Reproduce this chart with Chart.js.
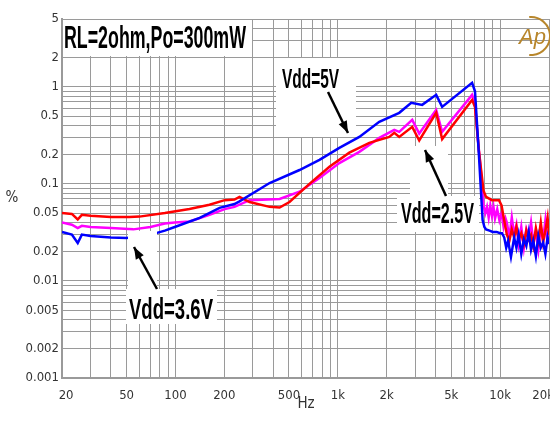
<!DOCTYPE html>
<html>
<head>
<meta charset="utf-8">
<script src="https://cdn.jsdelivr.net/npm/chart.js@4"></script>
<style>
  html, body { margin: 0; padding: 0; background: #fff; }
</style>
</head>
<body>
<canvas id="thdChart" width="550" height="437"></canvas>
<script>
// THD+N (%) vs frequency (Hz)
const freq5V = [20, 23, 25, 26.5, 30, 40, 50, 60, 70, 77, 86, 99, 141, 187, 231, 248, 380, 581, 771, 1022,
  1357, 1801, 2390, 2834, 3310, 4036, 4394, 6718, 7000, 7400, 7630, 7800, 8000, 8190, 8600, 9000, 9500, 10000,
  10270, 10600, 10900, 11200, 11660, 12200, 12600, 13000, 13500, 14000, 14500, 15000, 15500, 16000, 16600,
  17200, 17800, 18400, 19000, 19600, 20000];
const thd5V = [0.032, 0.030, 0.0246, 0.030, 0.029, 0.028, 0.0277, 0.029, 0.030, 0.0313, 0.033, 0.036, 0.0446,
  0.0566, 0.062, 0.066, 0.102, 0.139, 0.177, 0.235, 0.305, 0.436, 0.540, 0.684, 0.652, 0.827, 0.622, 1.10, 0.90,
  0.20, 0.080, 0.0425, 0.036, 0.034, 0.033, 0.032, 0.032, 0.031, 0.031, 0.028, 0.022, 0.026, 0.0177,
  0.028, 0.022, 0.030, 0.019, 0.027, 0.023, 0.032, 0.021, 0.026, 0.018, 0.029, 0.022, 0.025, 0.019, 0.028, 0.024];

const freq36V = [20, 23, 25, 26.5, 30, 40, 55, 70, 86, 99, 122, 162, 201, 231, 286, 438, 581, 771, 1022, 1357,
  1801, 2228, 2390, 2874, 3174, 4036, 4394, 6718, 7000, 7400, 7630, 7900, 8100, 8300, 8500, 8700, 8900, 9100,
  9300, 9600, 9900, 10200, 10500, 10800, 11000, 11400, 11800, 12200, 12600, 13000, 13500, 14000, 14500, 15000,
  15500, 16000, 16600, 17200, 17800, 18400, 19000, 19600, 20000];
const thd36V = [0.040, 0.038, 0.035, 0.037, 0.036, 0.0352, 0.034, 0.036, 0.039, 0.040, 0.041, 0.048, 0.055,
  0.058, 0.068, 0.070, 0.083, 0.115, 0.164, 0.214, 0.298, 0.360, 0.344, 0.457, 0.330, 0.579, 0.344, 0.827, 0.680,
  0.220, 0.130, 0.060, 0.050, 0.058, 0.045, 0.060, 0.047, 0.058, 0.044, 0.055, 0.042, 0.050, 0.036, 0.044,
  0.040, 0.028, 0.045, 0.030, 0.038, 0.024, 0.036, 0.022, 0.034, 0.028, 0.040, 0.025, 0.032, 0.021, 0.036,
  0.027, 0.042, 0.024, 0.034];

const freq25V = [20, 23, 25, 26.5, 30, 40, 52, 60, 86, 122, 162, 201, 231, 248, 286, 380, 438, 504, 669, 888,
  1178, 1564, 2075, 2228, 2390, 2874, 3174, 4036, 4394, 6718, 7000, 7400, 7630, 7900, 8190, 8900, 9840, 10200,
  10600, 11000, 11400, 11800, 12200, 12600, 13000, 13500, 14000, 14500, 15000, 15500, 16000, 16600, 17200,
  17800, 18400, 19000, 19600, 20000];
const thd25V = [0.050, 0.049, 0.043, 0.048, 0.047, 0.0457, 0.0457, 0.046, 0.050, 0.055, 0.061, 0.068, 0.069,
  0.0735, 0.065, 0.058, 0.057, 0.065, 0.100, 0.150, 0.210, 0.265, 0.305, 0.336, 0.305, 0.387, 0.280, 0.540,
  0.290, 0.734, 0.620, 0.220, 0.140, 0.085, 0.0735, 0.068, 0.068, 0.060, 0.042,
  0.030, 0.026, 0.034, 0.028, 0.036, 0.027, 0.031, 0.024, 0.033, 0.027, 0.030, 0.023, 0.035, 0.026, 0.040,
  0.025, 0.033, 0.045, 0.030];

const xTickLabels = [20, 50, 100, 200, 500, 1000, 2000, 5000, 10000, 20000];
const yTickLabels = [0.001, 0.002, 0.005, 0.01, 0.02, 0.05, 0.1, 0.2, 0.5, 1, 2, 5];

// grid lines at every 1..9 step of each decade
const xGrid = [];
for (let e = 1; e <= 4; e++) {
  for (let m = 1; m <= 9; m++) {
    const v = m * Math.pow(10, e);
    if (v >= 20 && v <= 20000) xGrid.push(v);
  }
}
const yGrid = [];
for (let e = -3; e <= 0; e++) {
  for (let m = 1; m <= 9; m++) {
    const v = Number((m * Math.pow(10, e)).toPrecision(2));
    if (v <= 5) yGrid.push(v);
  }
}

function toPoints(xs, ys) {
  return xs.map((x, i) => ({ x: x, y: ys[i] }));
}

const narrowFont = "'Liberation Sans Narrow', 'DejaVu Sans Condensed', 'Liberation Sans', sans-serif";

// bold label squeezed to a given width
function squeezed(c, str, x, base, width, size) {
  c.font = 'bold ' + size + 'px "Liberation Sans", Arial, sans-serif';
  const w = c.measureText(str).width;
  c.save();
  c.translate(x, base);
  c.scale(width / w, 1);
  c.fillText(str, 0, 0);
  c.restore();
}

function arrow(c, x0, y0, x1, y1) {
  c.beginPath();
  c.moveTo(x0, y0);
  c.lineTo(x1, y1);
  c.stroke();
  const a = Math.atan2(y1 - y0, x1 - x0);
  const L = 12, W = 4.5;
  c.beginPath();
  c.moveTo(x1, y1);
  c.lineTo(x1 - L * Math.cos(a) + W * Math.sin(a), y1 - L * Math.sin(a) - W * Math.cos(a));
  c.lineTo(x1 - L * Math.cos(a) - W * Math.sin(a), y1 - L * Math.sin(a) + W * Math.cos(a));
  c.closePath();
  c.fill();
}

const annotate = {
  id: 'annotate',
  afterDatasetsDraw(chart) {
    const c = chart.ctx;
    c.save();
    // white label backgrounds (they hide grid and the curve underneath)
    c.fillStyle = '#fff';
    c.fillRect(63, 20, 189, 36);
    c.fillRect(276, 58, 80, 79);
    c.fillRect(410, 146, 38, 50);
    c.fillRect(397, 196, 82, 36);
    c.fillRect(128, 231, 29, 58);
    c.fillRect(126, 289, 91, 35);

    c.fillStyle = '#000';
    c.textAlign = 'left';
    c.textBaseline = 'alphabetic';
    squeezed(c, 'RL=2ohm,Po=300mW', 64, 48, 182, 31);
    squeezed(c, 'Vdd=5V', 282, 88, 57, 28);
    squeezed(c, 'Vdd=2.5V', 401, 223, 73, 30);
    squeezed(c, 'Vdd=3.6V', 129, 319, 84, 29);

    c.strokeStyle = '#000';
    c.lineWidth = 2.5;
    arrow(c, 328, 92, 348, 133);
    arrow(c, 446, 196, 425, 150);
    arrow(c, 157, 289, 134, 247);

    // axis titles
    c.fillStyle = '#333';
    c.font = '15px ' + narrowFont;
    c.textAlign = 'center';
    c.textBaseline = 'middle';
    c.fillText('%', 12, 198);
    c.fillText('Hz', 306, 404);

    // AP logo
    c.strokeStyle = '#b8862b';
    c.fillStyle = '#b8862b';
    c.lineWidth = 2;
    c.beginPath();
    c.arc(531, 36, 19, -Math.PI * 0.53, Math.PI * 0.53);
    c.stroke();
    c.font = 'italic 22px "Liberation Sans", sans-serif';
    c.textAlign = 'left';
    c.textBaseline = 'alphabetic';
    c.fillText('Ap', 519, 44);
    c.restore();
  }
};

const ctx = document.getElementById('thdChart').getContext('2d');

const thdChart = new Chart(ctx, {
  type: 'line',
  data: {
    datasets: [
      { label: 'Vdd=5V', data: toPoints(freq5V, thd5V), borderColor: '#0000ff' },
      { label: 'Vdd=2.5V', data: toPoints(freq25V, thd25V), borderColor: '#ff0000' },
      { label: 'Vdd=3.6V', data: toPoints(freq36V, thd36V), borderColor: '#ff00ff' }
    ]
  },
  options: {
    responsive: false,
    animation: false,
    layout: { padding: { left: 0, right: 1, top: 19, bottom: 0 } },
    elements: {
      point: { radius: 0 },
      line: { borderWidth: 2.5, tension: 0, fill: false }
    },
    plugins: {
      legend: { display: false },
      tooltip: { enabled: false }
    },
    scales: {
      x: {
        type: 'logarithmic',
        min: 20,
        max: 20000,
        afterBuildTicks: (axis) => { axis.ticks = xGrid.map(v => ({ value: v })); },
        afterFit: (axis) => { axis.height = 59; axis.paddingLeft = 0; axis.paddingRight = 0; },
        grid: { color: '#9a9a9a', lineWidth: 1, drawTicks: false },
        border: { color: '#9a9a9a', width: 2 },
        ticks: {
          autoSkip: false,
          maxRotation: 0,
          padding: 10,
          color: '#333',
          font: { family: narrowFont, size: 13 },
          callback: (v) => {
            if (!xTickLabels.includes(v)) return '';
            const s = v >= 1000 ? (v / 1000) + 'k' : String(v);
            if (v === 20) return '\u2002\u2009' + s;
            if (v === 20000) return s + '\u2002\u2002';
            return s;
          }
        }
      },
      y: {
        type: 'logarithmic',
        min: 0.001,
        max: 5,
        afterBuildTicks: (axis) => { axis.ticks = yGrid.map(v => ({ value: v })); },
        afterFit: (axis) => { axis.width = 62; axis.paddingTop = 0; axis.paddingBottom = 0; },
        grid: { color: '#9a9a9a', lineWidth: 1, drawTicks: false },
        border: { color: '#9a9a9a', width: 2 },
        ticks: {
          autoSkip: false,
          padding: 3,
          color: '#333',
          font: { family: narrowFont, size: 13 },
          callback: (v) => yTickLabels.includes(v) ? String(v) : ''
        }
      }
    }
  },
  plugins: [annotate]
});
</script>
</body>
</html>
